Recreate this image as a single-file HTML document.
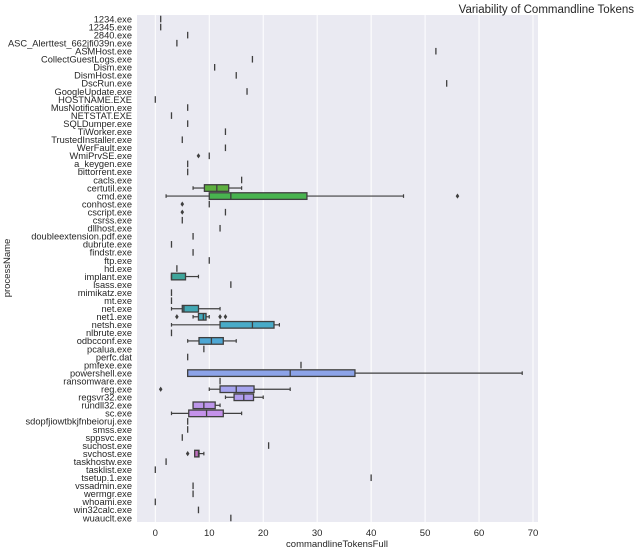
<!DOCTYPE html>
<html><head><meta charset="utf-8"><style>
body{margin:0;background:#fff;}
svg text{font-family:"Liberation Sans",sans-serif;fill:#262626;}
</style></head><body>
<svg id="chart" width="639" height="554" xmlns="http://www.w3.org/2000/svg">
<rect x="137" y="15" width="401" height="507" fill="#eaeaf2"/>
<g id="grid"></g><g id="marks"></g><g id="yt"></g><g id="xt"></g>
<text x="634" y="13" text-anchor="end" font-size="11.5">Variability of Commandline Tokens</text>
<text x="337" y="547" text-anchor="middle" font-size="9.5">commandlineTokensFull</text>
<text transform="translate(10,268) rotate(-90)" text-anchor="middle" font-size="9.5">processName</text>
</svg>
<script>
const cats=["1234.exe","12345.exe","2840.exe","ASC_Alerttest_662jfi039n.exe","ASMHost.exe","CollectGuestLogs.exe","Dism.exe","DismHost.exe","DscRun.exe","GoogleUpdate.exe","HOSTNAME.EXE","MusNotification.exe","NETSTAT.EXE","SQLDumper.exe","TiWorker.exe","TrustedInstaller.exe","WerFault.exe","WmiPrvSE.exe","a_keygen.exe","bittorrent.exe","cacls.exe","certutil.exe","cmd.exe","conhost.exe","cscript.exe","csrss.exe","dllhost.exe","doubleextension.pdf.exe","dubrute.exe","findstr.exe","ftp.exe","hd.exe","implant.exe","lsass.exe","mimikatz.exe","mt.exe","net.exe","net1.exe","netsh.exe","nlbrute.exe","odbcconf.exe","pcalua.exe","perfc.dat","pmfexe.exe","powershell.exe","ransomware.exe","reg.exe","regsvr32.exe","rundll32.exe","sc.exe","sdopfjiowtbkjfnbeioruj.exe","smss.exe","sppsvc.exe","suchost.exe","svchost.exe","taskhostw.exe","tasklist.exe","tsetup.1.exe","vssadmin.exe","wermgr.exe","whoami.exe","win32calc.exe","wuauclt.exe"];
const medians=[1,1,6,4,52,18,11,15,54,17,0,6,3,6,13,5,13,10,6,6,16,11.4,14,10,13,5,12,7,3,7,10,4,3,14,3,3,5.3,8.9,18,3,10.4,9,6,27,25,12,15,16.4,9,9.5,6,6,5,21,8,2,0,40,7,7,0,8,14];
const q1s=[1,1,6,4,52,18,11,15,54,17,0,6,3,6,13,5,13,10,6,6,16,9.1,10,10,13,5,12,7,3,7,10,4,3,14,3,3,5,8,12,3,8.1,9,6,27,6,12,12,14.6,7,6.2,6,6,5,21,7.3,2,0,40,7,7,0,8,14];
const q3s=[1,1,6,4,52,18,11,15,54,17,0,6,3,6,13,5,13,10,6,6,16,13.6,28.1,10,13,5,12,7,3,7,10,4,5.6,14,3,3,8,9.4,22,3,12.6,9,6,27,37,12,18.3,18.2,11.1,12.6,6,6,5,21,8.1,2,0,40,7,7,0,8,14];
const whiskLo=[1,1,6,4,52,18,11,15,54,17,0,6,3,6,13,5,13,10,6,6,16,7,2,10,13,5,12,7,3,7,10,4,3,14,3,3,3,7,3,3,6,9,6,27,6,12,10,13,7,3,6,6,5,21,7.3,2,0,40,7,7,0,8,14];
const whiskHi=[1,1,6,4,52,18,11,15,54,17,0,6,3,6,13,5,13,10,6,6,16,16,46,10,13,5,12,7,3,7,10,4,8,14,3,3,12,10,23,3,15,9,6,27,68,12,25,20,12,16,6,6,5,21,9,2,0,40,7,7,0,8,14];
const outliers=[[],[],[],[],[],[],[],[],[],[],[],[],[],[],[],[],[],[8],[],[],[],[],[56],[5],[5],[],[],[],[],[],[],[],[],[],[],[],[],[4,12,13],[],[],[],[],[],[],[],[],[1],[],[],[],[],[],[],[],[6],[],[],[],[],[],[],[],[]];
const xTicks=[0,10,20,30,40,50,60,70];
const boxColors={"certutil.exe":"#5daf3f","cmd.exe":"#48b34f","implant.exe":"#3fa59b","net.exe":"#42a8b4","net1.exe":"#43a9bc","netsh.exe":"#49abc8","odbcconf.exe":"#4ea7d4","powershell.exe":"#8ca3e8","reg.exe":"#a5a3ee","regsvr32.exe":"#b19ded","rundll32.exe":"#bc95ea","sc.exe":"#c492ea","svchost.exe":"#c070c0"};
const NS="http://www.w3.org/2000/svg";
const X0=137,X1=538,Y0=15,Y1=522;
const xs=v=>155.3+v*5.396;
const step=(Y1-Y0)/cats.length;
const ys=i=>Y0+step*(i+0.5);
function mk(tag,attrs,parent){const e=document.createElementNS(NS,tag);for(const k in attrs)e.setAttribute(k,attrs[k]);document.getElementById(parent).appendChild(e);return e;}
xTicks.forEach(t=>{
  const g=mk("line",{x1:xs(t),x2:xs(t),y1:Y0,y2:Y1,stroke:"#fff","stroke-width":1},"grid");
  
  
  const l=mk("text",{x:xs(t),y:536,"text-anchor":"middle","font-size":"9.5"},"xt");
  l.textContent=t;
  
  
});
const ST="#3f3f3f";
cats.forEach((c,i)=>{
  const y=ys(i),h=6.6;
  const lab=mk("text",{x:132,y:y+3.3,"text-anchor":"end","font-size":"9.3"},"yt");
  lab.textContent=c;
  
  
  const wl=mk("line",{x1:xs(whiskLo[i]),x2:xs(q1s[i]),y1:y,y2:y,stroke:ST,"stroke-width":1.2},"marks");
  
  
  const wh=mk("line",{x1:xs(q3s[i]),x2:xs(whiskHi[i]),y1:y,y2:y,stroke:ST,"stroke-width":1.2},"marks");
  
  
  if(whiskHi[i]>whiskLo[i]){
    [whiskLo[i],whiskHi[i]].forEach(v=>{
      const cap=mk("line",{x1:xs(v),x2:xs(v),y1:y-1.8,y2:y+1.8,stroke:ST,"stroke-width":1.2},"marks");
      
      
    });
  }
  const b=mk("rect",{x:xs(q1s[i]),y:y-h/2,width:Math.max(0,xs(q3s[i])-xs(q1s[i])),height:h,fill:boxColors[c]||"#888",stroke:ST,"stroke-width":1.3},"marks");
  
  
  const m=mk("line",{x1:xs(medians[i]),x2:xs(medians[i]),y1:y-h/2,y2:y+h/2,stroke:ST,"stroke-width":1.3},"marks");
  
  
  outliers[i].forEach(v=>{
    const o=mk("path",{d:`M${xs(v)},${y-2.6}L${xs(v)+1.8},${y}L${xs(v)},${y+2.6}L${xs(v)-1.8},${y}Z`,fill:ST},"marks");
    
    
  });
});
</script>
</body></html>
